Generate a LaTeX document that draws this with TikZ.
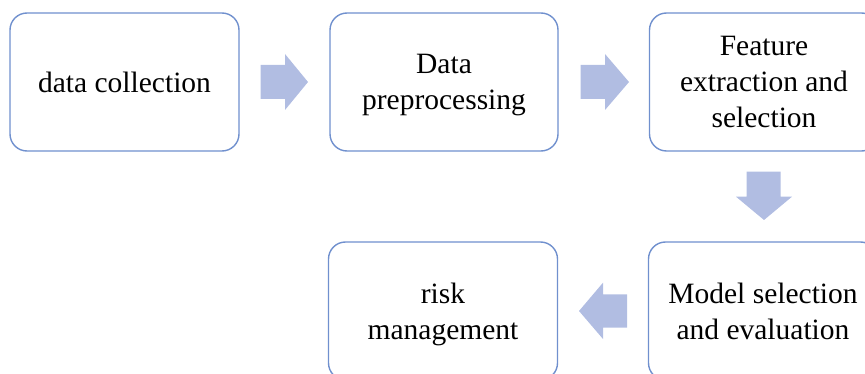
\documentclass[tikz,border=0pt]{standalone}
\usepackage{fontspec}
\setmainfont{Liberation Serif}
\definecolor{boxline}{RGB}{112,144,206}
\definecolor{arrowfill}{RGB}{177,189,226}
\begin{document}
\begin{tikzpicture}[x=1pt,y=-1pt,
  stepbox/.style={draw=boxline, line width=1.4pt, rounded corners=17pt, fill=white,
    minimum width=229pt, minimum height=138pt, align=center, inner sep=0pt,
    font=\fontsize{29.5}{36}\selectfont, text=black},
  blockarrow/.style={fill=arrowfill, draw=none}]
\useasboundingbox (0,0) rectangle (865,374);
\clip (0,0) rectangle (865,374);
\node[stepbox] (b1) at (124.5,82) {data collection};
\node[stepbox, minimum width=228pt, text depth=0pt] (b2) at (444,82) {Data\\preprocessing};
\node[stepbox] (b3) at (764,82) {Feature\\extraction and\\selection};
\node[stepbox, text depth=0pt] (b4) at (443,311) {risk\\management};
\node[stepbox] (b5) at (763,311) {Model selection\\and evaluation};
% block arrows
\fill[blockarrow] (260.7,65) -- (285,65) -- (285,54) -- (308,82) -- (285,110) -- (285,99) -- (260.7,99) -- cycle;
\fill[blockarrow] (580.7,65) -- (605,65) -- (605,54) -- (629,82) -- (605,110) -- (605,99) -- (580.7,99) -- cycle;
\fill[blockarrow] (746.7,171.7) -- (780.7,171.7) -- (780.7,196.7) -- (792,196.7) -- (764,220) -- (736,196.7) -- (746.7,196.7) -- cycle;
\fill[blockarrow] (627,294.3) -- (603,294.3) -- (603,282.7) -- (579,311) -- (603,339) -- (603,327.7) -- (627,327.7) -- cycle;
\end{tikzpicture}
\end{document}
